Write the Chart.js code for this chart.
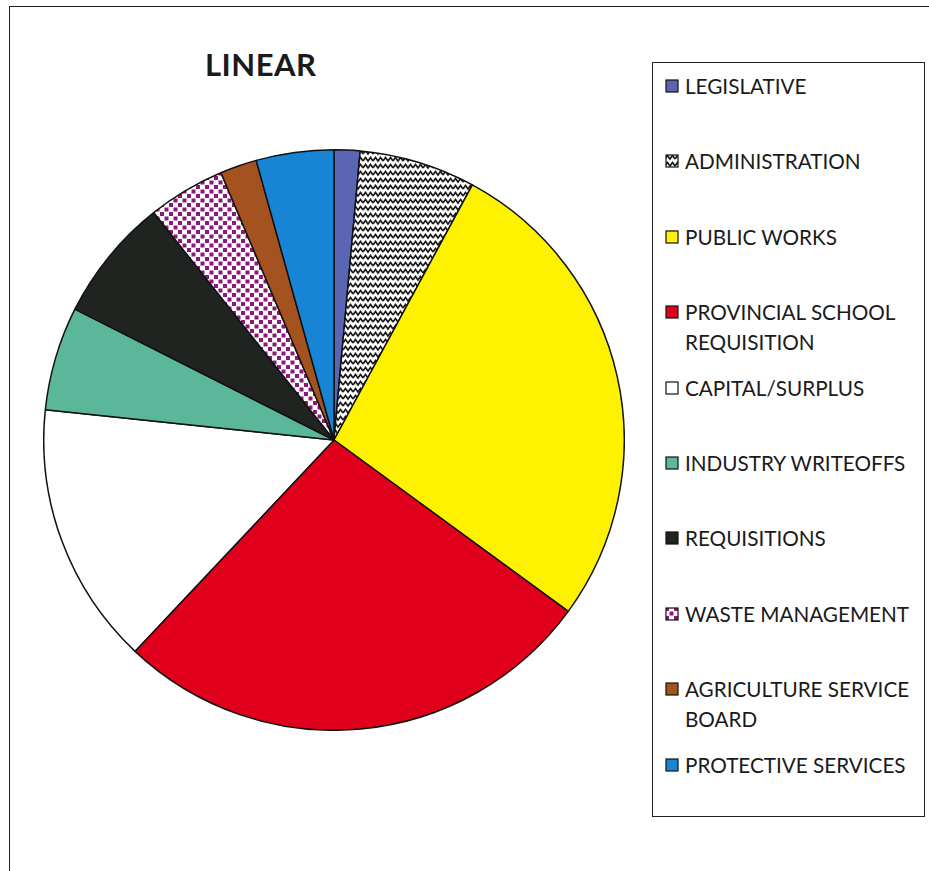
<!DOCTYPE html>
<html>
<head>
<meta charset="utf-8">
<script src="https://cdn.jsdelivr.net/npm/chart.js@4/dist/chart.umd.min.js"></script>
<style>
  html, body { margin: 0; padding: 0; background: #fff; }
  body { width: 929px; height: 871px; position: relative; overflow: hidden; font-family: Lato, "Open Sans", sans-serif; }
  .frame { position: absolute; left: 9px; top: 6px; width: 940px; height: 900px; border-left: 1.5px solid #222; border-top: 1.5px solid #222; }
  .title { position: absolute; left: 205px; top: 45px; font-weight: 700; font-size: 31px; color: #1a1a1a; letter-spacing: 0.5px; }
  .pie-wrap { position: absolute; left: 43px; top: 149px; width: 582px; height: 582px; }
  .legend { position: absolute; left: 652px; top: 62px; width: 273px; height: 755px; border: 1.5px solid #222; box-sizing: border-box; }
  .item { position: absolute; left: 12px; font-size: 20.7px; line-height: 30px; color: #1a1a1a; }
  .item canvas { position: absolute; left: 0; top: 8px; }
  .item span { display: block; margin-left: 20px; }
</style>
</head>
<body>
<div class="frame"></div>
<div class="title">LINEAR</div>
<div class="pie-wrap"><canvas id="pie" width="582" height="582"></canvas></div>
<div class="legend" id="legend"></div>
<script>
const labels = ['LEGISLATIVE', 'ADMINISTRATION', 'PUBLIC WORKS', 'PROVINCIAL SCHOOL REQUISITION',
  'CAPITAL/SURPLUS', 'INDUSTRY WRITEOFFS', 'REQUISITIONS', 'WASTE MANAGEMENT',
  'AGRICULTURE SERVICE BOARD', 'PROTECTIVE SERVICES'];
const legendLines = [['LEGISLATIVE'], ['ADMINISTRATION'], ['PUBLIC WORKS'], ['PROVINCIAL SCHOOL', 'REQUISITION'],
  ['CAPITAL/SURPLUS'], ['INDUSTRY WRITEOFFS'], ['REQUISITIONS'], ['WASTE MANAGEMENT'],
  ['AGRICULTURE SERVICE', 'BOARD'], ['PROTECTIVE SERVICES']];
// percent shares
const values = [1.44, 6.47, 27.14, 26.97, 14.64, 5.78, 6.89, 4.30, 2.05, 4.32];
const colors = ['#5a66b4', 'zigzag', '#fff200', '#e0001b', '#ffffff', '#5bb79a', '#1f2420', 'dots', '#a4521f', '#1784d6'];

function zigzagPattern(ctx) {
  const c = document.createElement('canvas');
  c.width = 10; c.height = 7;
  const g = c.getContext('2d');
  g.fillStyle = '#fff'; g.fillRect(0, 0, 10, 7);
  g.strokeStyle = '#1a1a1a'; g.lineWidth = 1.6;
  g.beginPath();
  g.moveTo(0, 5); g.lineTo(2.5, 1.5); g.lineTo(5, 5); g.lineTo(7.5, 1.5); g.lineTo(10, 5);
  g.stroke();
  return ctx.createPattern(c, 'repeat');
}

function dotsPattern(ctx) {
  const c = document.createElement('canvas');
  c.width = 9; c.height = 9;
  const g = c.getContext('2d');
  g.fillStyle = '#fff'; g.fillRect(0, 0, 9, 9);
  g.fillStyle = '#8c1878';
  g.fillRect(0, 0, 4, 4);
  g.fillRect(4.5, 4.5, 4, 4);
  return ctx.createPattern(c, 'repeat');
}

function fillFor(ctx, c) {
  if (c === 'zigzag') return zigzagPattern(ctx);
  if (c === 'dots') return dotsPattern(ctx);
  return c;
}

const pieCtx = document.getElementById('pie').getContext('2d');
new Chart(pieCtx, {
  type: 'pie',
  data: {
    labels,
    datasets: [{
      data: values,
      backgroundColor: colors.map(c => fillFor(pieCtx, c)),
      borderColor: '#111',
      borderWidth: 1.5,
    }]
  },
  options: {
    responsive: false,
    animation: false,
    layout: { padding: 0 },
    plugins: { legend: { display: false }, tooltip: { enabled: false } }
  }
});

// legend built from the same arrays
const legend = document.getElementById('legend');
legendLines.forEach((lines, i) => {
  const item = document.createElement('div');
  item.className = 'item';
  item.style.top = (8 + i * 75.4) + 'px';
  const sw = document.createElement('canvas');
  sw.width = 14; sw.height = 14;
  const g = sw.getContext('2d');
  g.fillStyle = fillFor(g, colors[i]);
  g.fillRect(1, 1, 12, 12);
  g.strokeStyle = '#111'; g.lineWidth = 1.2;
  g.strokeRect(1, 1, 12, 12);
  item.appendChild(sw);
  const span = document.createElement('span');
  span.innerHTML = lines.join('<br>');
  item.appendChild(span);
  legend.appendChild(item);
});
</script>
</body>
</html>
